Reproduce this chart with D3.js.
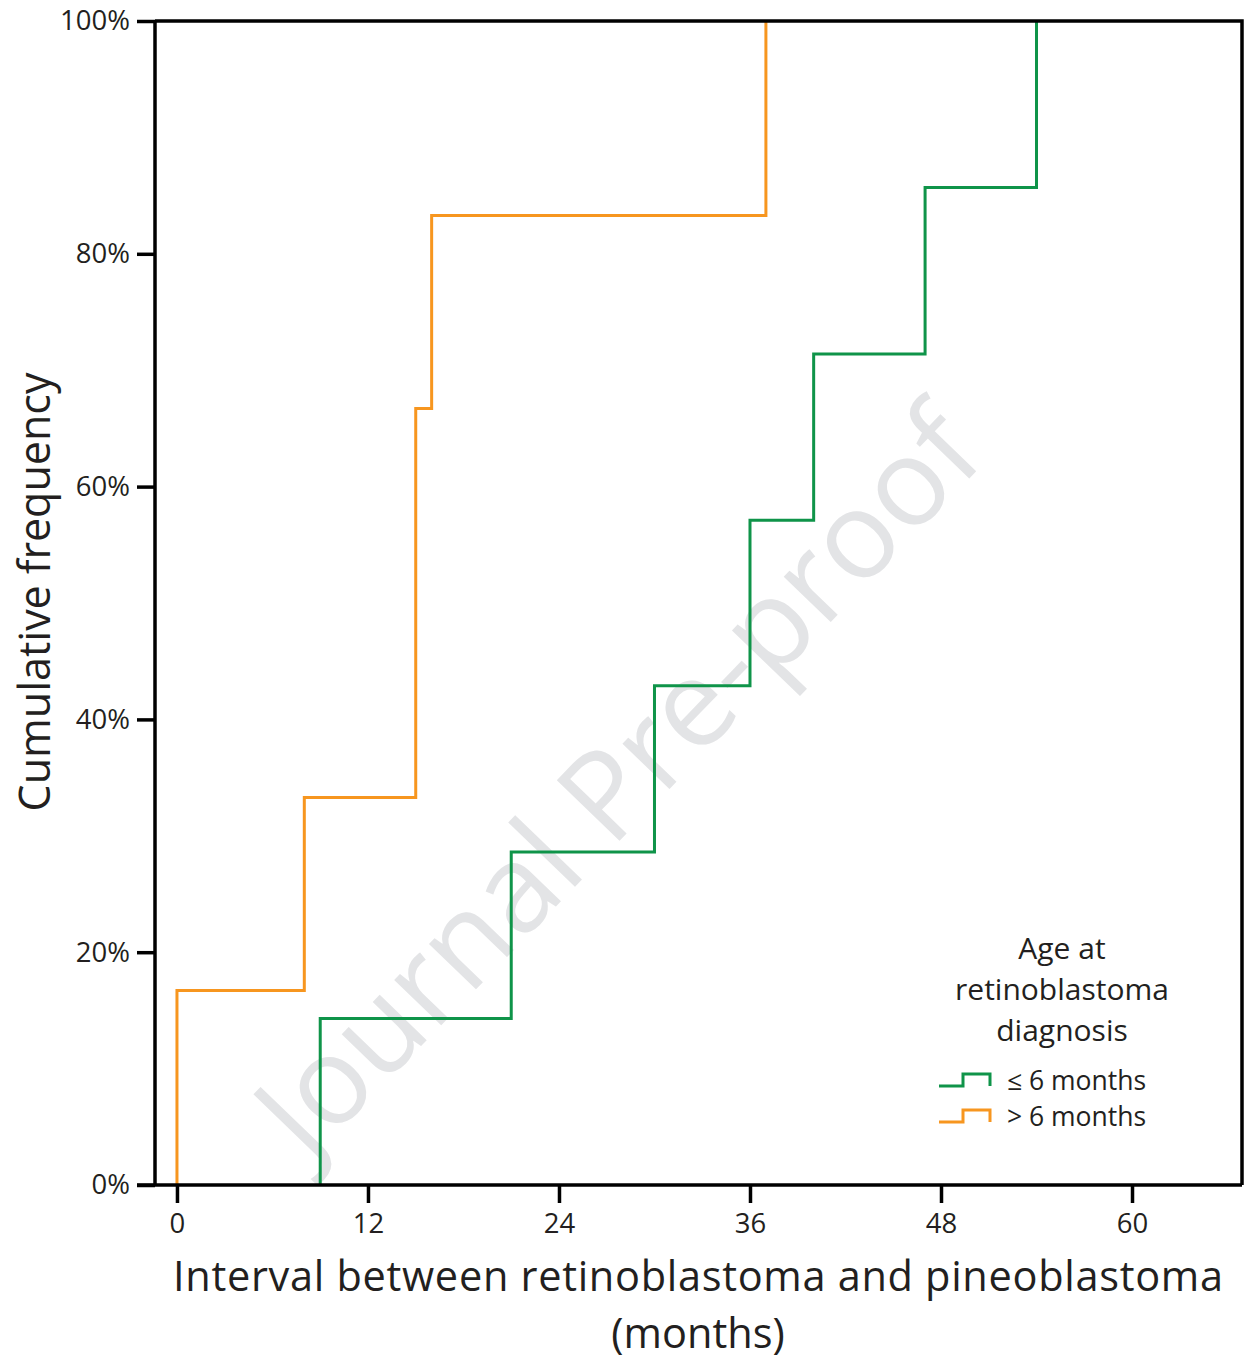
<!DOCTYPE html>
<html>
<head>
<meta charset="utf-8">
<script src="https://cdn.jsdelivr.net/npm/d3@7"></script>
<style>
  html, body { margin: 0; padding: 0; background: #fff; }
  svg { display: block; }
  text { font-family: "Open Sans", "Noto Sans", sans-serif; fill: #231f20; }
</style>
</head>
<body>
<svg id="chart" width="1247" height="1361"></svg>
<script>
// ---- data ----
const greenLabel = "≤ 6 months";
const greenMonths = [9, 21, 30, 36, 40, 47, 54];
const greenCumulative = [0.143, 0.286, 0.429, 0.571, 0.714, 0.857, 1.0];

const orangeLabel = "> 6 months";
const orangeMonths = [0, 8, 15, 16, 37];
const orangeCumulative = [0.167, 0.333, 0.667, 0.833, 1.0];

const xTicks = [0, 12, 24, 36, 48, 60];
const yTicks = [0, 0.2, 0.4, 0.6, 0.8, 1.0];

const xTitle = ["Interval between retinoblastoma and pineoblastoma", "(months)"];
const yTitle = "Cumulative frequency";
const legendTitle = ["Age at", "retinoblastoma", "diagnosis"];
const watermark = "Journal Pre-proof";

// ---- layout ----
const GREEN = "#0f9449", ORANGE = "#f7961f", INK = "#231f20";
const plot = { left: 155, right: 1242, top: 21, bottom: 1185 };

const svg = d3.select("#chart");

const x = d3.scaleLinear().domain([-1.38, 66.91]).range([plot.left, plot.right]);
const y = d3.scaleLinear().domain([0, 1]).range([plot.bottom, plot.top]);

// watermark (behind everything)
svg.append("text")
  .attr("transform", "translate(625,788) rotate(-46)")
  .attr("text-anchor", "middle")
  .attr("dominant-baseline", "middle")
  .style("font-size", "122px")
  .style("fill", "#e3e4e6")
  .text(watermark);

// step lines
function stepPoints(months, cum) {
  const pts = [[months[0], 0]];
  months.forEach((m, i) => pts.push([m, cum[i]]));
  return pts;
}
const line = d3.line().x(d => x(d[0])).y(d => y(d[1])).curve(d3.curveStepAfter);

svg.append("path")
  .attr("d", line(stepPoints(orangeMonths, orangeCumulative)))
  .attr("fill", "none").attr("stroke", ORANGE).attr("stroke-width", 3);
svg.append("path")
  .attr("d", line(stepPoints(greenMonths, greenCumulative)))
  .attr("fill", "none").attr("stroke", GREEN).attr("stroke-width", 3);

// frame (top & right)
svg.append("path")
  .attr("d", `M${plot.left},${plot.top}H${plot.right}V${plot.bottom}`)
  .attr("fill", "none").attr("stroke", "#000").attr("stroke-width", 3.5);

// x axis
const xAxis = d3.axisBottom(x).tickValues(xTicks).tickSize(18).tickPadding(10).tickFormat(d3.format("d"));
const gx = svg.append("g").attr("transform", `translate(0,${plot.bottom})`).call(xAxis);
gx.select(".domain").attr("d", `M137,0H${plot.right}`).attr("stroke", "#000").attr("stroke-width", 3.5);
gx.selectAll(".tick line").attr("stroke", "#000").attr("stroke-width", 3.5);
gx.selectAll(".tick text").style("font-size", "27.5px").style("font-family", "'Open Sans', sans-serif").attr("fill", INK);

// y axis
const yAxis = d3.axisLeft(y).tickValues(yTicks).tickSize(18).tickPadding(7).tickFormat(d3.format(".0%"));
const gy = svg.append("g").attr("transform", `translate(${plot.left},0)`).call(yAxis);
gy.select(".domain").attr("d", `M0,${plot.top}V${plot.bottom}`).attr("stroke", "#000").attr("stroke-width", 3.5);
gy.selectAll(".tick line").attr("stroke", "#000").attr("stroke-width", 3.5);
gy.selectAll(".tick text").style("font-size", "27.5px").style("font-family", "'Open Sans', sans-serif").attr("fill", INK);

// axis titles
svg.append("text")
  .attr("x", 698).attr("y", 1291)
  .attr("text-anchor", "middle")
  .attr("textLength", 1050).attr("lengthAdjust", "spacing")
  .style("font-size", "41.5px")
  .text(xTitle[0]);
svg.append("text")
  .attr("x", 698).attr("y", 1348)
  .attr("text-anchor", "middle")
  .style("font-size", "41.5px")
  .text(xTitle[1]);
svg.append("text")
  .attr("transform", "translate(50,592) rotate(-90)")
  .attr("text-anchor", "middle")
  .style("font-size", "43px")
  .text(yTitle);

// legend
const lg = svg.append("g");
legendTitle.forEach((t, i) => {
  lg.append("text")
    .attr("x", 1062).attr("y", 959 + i * 41)
    .attr("text-anchor", "middle")
    .style("font-size", "30px")
    .text(t);
});
const legendItems = [
  { label: greenLabel, color: GREEN, y: 1086 },
  { label: orangeLabel, color: ORANGE, y: 1122 }
];
legendItems.forEach(it => {
  lg.append("path")
    .attr("d", `M939,${it.y}H963V${it.y - 12}H990V${it.y}`)
    .attr("fill", "none").attr("stroke", it.color).attr("stroke-width", 3);
  lg.append("text")
    .attr("x", 1007).attr("y", it.y + 4)
    .style("font-size", "26.5px")
    .text(it.label);
});
</script>
</body>
</html>
